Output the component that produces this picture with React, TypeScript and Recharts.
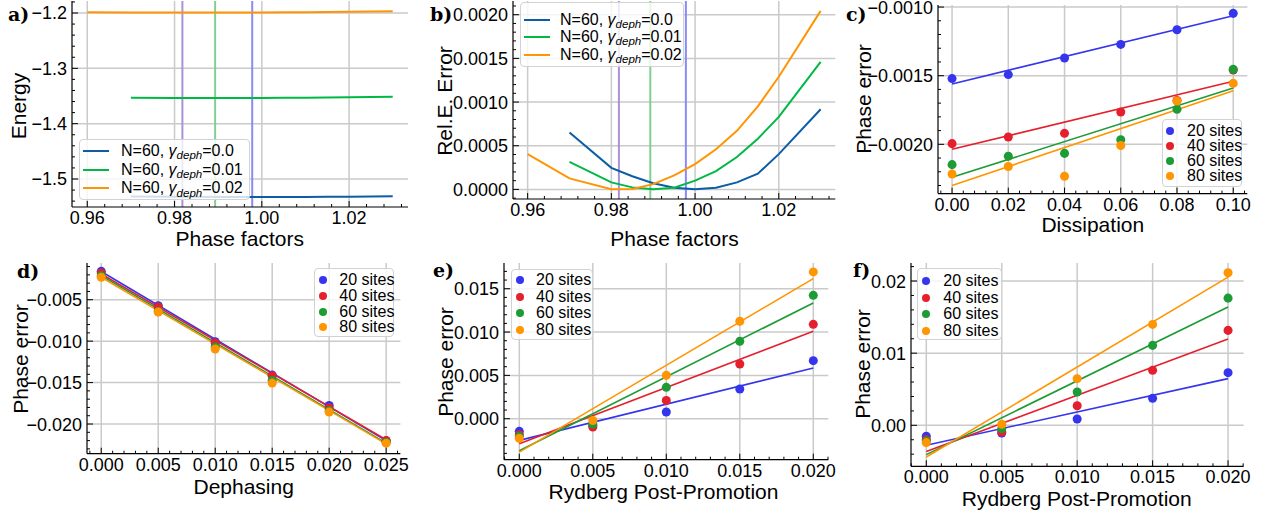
import React from 'react';
import { ComposedChart, Line, Scatter, XAxis, YAxis, CartesianGrid, ReferenceLine } from 'recharts';

const FONT = '"Liberation Sans", Arial, Helvetica, sans-serif';

// ---------------- data: panels a & b ----------------
const systemSize = 60;
const gammaLabels = ['0.0', '0.01', '0.02'];
const gammaColors = ['#0C5DA5', '#00B945', '#FF9500'];

const phaseFull = [0.96, 0.97, 0.98, 0.985, 0.99, 0.995, 1.0, 1.005, 1.01, 1.015, 1.02, 1.03];
const phaseShort = [0.97, 0.98, 0.985, 0.99, 0.995, 1.0, 1.005, 1.01, 1.015, 1.02, 1.03];

const energyG0 = [-1.5315, -1.5321, -1.5323, -1.5324, -1.5325, -1.5325, -1.5325, -1.5324, -1.5322, -1.5319, -1.5311];
const energyG1 = [-1.3531, -1.3534, -1.3535, -1.3535, -1.3535, -1.3534, -1.3532, -1.353, -1.3527, -1.3524, -1.3515];
const energyG2 = [-1.1988, -1.1992, -1.1993, -1.1993, -1.1992, -1.1991, -1.199, -1.1988, -1.1985, -1.1982, -1.1978, -1.1969];

const relErrG0 = [0.000652, 0.000247, 0.00015, 0.00007, 0.00002, 0.000002, 0.00002, 0.00008, 0.00018, 0.000404, 0.000917];
const relErrG1 = [0.000316, 0.00008, 0.000023, 0.000002, 0.00002, 0.0001, 0.00021, 0.00037, 0.00058, 0.00083, 0.00146];
const relErrG2 = [0.000404, 0.000126, 0.000003, 0.000005, 0.00006, 0.00016, 0.00029, 0.00046, 0.00067, 0.00095, 0.00129, 0.002044];

const optimalPhase = [0.9978, 0.9893, 0.9818];
const optimalColors = ['#8a8af7', '#82cf92', '#ab90d8'];

// ---------------- data: panels c-f ----------------
const siteCounts = [20, 40, 60, 80];
const siteColors = ['#3535ee', '#e5202d', '#1d9b35', '#ff9500'];

const dissipation = [0, 0.02, 0.04, 0.06, 0.08, 0.1];
const dissFitX = [0, 0.1];
const dissErr20 = [-0.001521, -0.001492, -0.001371, -0.001272, -0.001165, -0.001046];
const dissErr40 = [-0.001995, -0.001947, -0.00192, -0.001765, -0.00168, -0.001459];
const dissErr60 = [-0.002148, -0.002087, -0.002066, -0.001966, -0.001745, -0.001454];
const dissErr80 = [-0.002216, -0.002162, -0.002233, -0.002009, -0.001685, -0.001556];
const dissFit20 = [-0.00156, -0.001063];
const dissFit40 = [-0.002036, -0.001541];
const dissFit60 = [-0.00224, -0.00159];
const dissFit80 = [-0.0023, -0.00161];

const dephasing = [0, 0.005, 0.01, 0.015, 0.02, 0.025];
const dephFitX = [0, 0.025];
const dephErr20 = [-0.00158, -0.00572, -0.01007, -0.0141, -0.01777, -0.02203];
const dephErr40 = [-0.00178, -0.00588, -0.01023, -0.01418, -0.01804, -0.02199];
const dephErr60 = [-0.0021, -0.00641, -0.01071, -0.01474, -0.0184, -0.02219];
const dephErr80 = [-0.0023, -0.00649, -0.01095, -0.01506, -0.01856, -0.02231];
const dephFit20 = [-0.0016, -0.022];
const dephFit40 = [-0.0019, -0.0219];
const dephFit60 = [-0.0021, -0.0223];
const dephFit80 = [-0.0023, -0.0224];

const rydberg = [0, 0.005, 0.01, 0.015, 0.02];
const rydFitX = [0, 0.02];
const rydAErr20 = [-0.00146, -0.0008, 0.00077, 0.00343, 0.0067];
const rydAErr40 = [-0.00185, -0.00096, 0.00211, 0.00632, 0.01089];
const rydAErr60 = [-0.00204, -0.00061, 0.00362, 0.00893, 0.01424];
const rydAErr80 = [-0.00227, -0.0002, 0.005, 0.01124, 0.01694];
const rydAFit20 = [-0.0025, 0.00585];
const rydAFit40 = [-0.00289, 0.0101];
const rydAFit60 = [-0.0037, 0.01336];
const rydAFit80 = [-0.00385, 0.01617];

const rydBErr20 = [-0.00152, -0.00106, 0.00088, 0.00374, 0.0073];
const rydBErr40 = [-0.00198, -0.00092, 0.00272, 0.00762, 0.01316];
const rydBErr60 = [-0.00217, -0.00046, 0.00462, 0.01108, 0.01763];
const rydBErr80 = [-0.0024, 0.00014, 0.00647, 0.01399, 0.02115];
const rydBFit20 = [-0.00277, 0.00647];
const rydBFit40 = [-0.00364, 0.01196];
const rydBFit60 = [-0.00406, 0.01639];
const rydBFit80 = [-0.00439, 0.02054];

// tick labels (major ticks)
const phaseTicks = [0.96, 0.98, 1.0, 1.02];
const energyTicks = [-1.5, -1.4, -1.3, -1.2];
const relErrTicks = [0, 0.0005, 0.001, 0.0015, 0.002];
const dissTicks = [0, 0.02, 0.04, 0.06, 0.08, 0.1];
const dissErrTicks = [-0.002, -0.0015, -0.001];
const dephTicks = [0, 0.005, 0.01, 0.015, 0.02, 0.025];
const dephErrTicks = [-0.02, -0.015, -0.01, -0.005];
const rydTicks = [0, 0.005, 0.01, 0.015, 0.02];
const rydAErrTicks = [0, 0.005, 0.01, 0.015];
const rydBErrTicks = [0, 0.01, 0.02];

// ---------------- helpers ----------------
const pts = (xs: number[], ys: number[]) => xs.map((x, i) => ({ x, y: ys[i] }));

const ML = 72, MR = 12, MT = 12, MB = 32;
const TICK_FONT = 18;

type Cfg = {
  plot: [number, number, number, number];
  xDomain: [number, number];
  yDomain: [number, number];
  xMajor: number[];
  yMajor: number[];
  xStep: number;
  yStep: number;
  xDigits: number;
  yDigits: number;
};

function stepTicks(domain: [number, number], step: number) {
  const s = Math.ceil(domain[0] / step - 1e-6);
  const e = Math.floor(domain[1] / step + 1e-6);
  const out: number[] = [];
  for (let k = s; k <= e; k++) out.push(Math.round(k * step * 1e9) / 1e9);
  return out;
}

function fmt(v: number, d: number) {
  let s = v.toFixed(d);
  if (/^-[0.]+$/.test(s)) s = s.slice(1);
  return s.replace('-', '\u2212');
}

function makeTick(side: string, majors: number[], step: number, digits: number) {
  return (props: any) => {
    const { x, y, payload } = props;
    const v = Number(payload && payload.value);
    const major = majors.some((m) => Math.abs(m - v) < step * 0.01);
    const len = major ? 6 : 3;
    const ls = { stroke: '#000', strokeWidth: 1 };
    const ts = { fontSize: TICK_FONT, fontFamily: FONT, fill: '#000' };
    if (side === 'bottom')
      return (
        <g>
          <line x1={x} x2={x} y1={y} y2={y - len} {...ls} />
          {major && (
            <text x={x} y={y + 4} dy="0.72em" textAnchor="middle" {...ts}>
              {fmt(v, digits)}
            </text>
          )}
        </g>
      );
    if (side === 'top')
      return (
        <g>
          <line x1={x} x2={x} y1={y} y2={y + len} {...ls} />
        </g>
      );
    if (side === 'left')
      return (
        <g>
          <line x1={x} x2={x + len} y1={y} y2={y} {...ls} />
          {major && (
            <text x={x - 5} y={y} dy="0.36em" textAnchor="end" {...ts}>
              {fmt(v, digits)}
            </text>
          )}
        </g>
      );
    return (
      <g>
        <line x1={x} x2={x - len} y1={y} y2={y} {...ls} />
      </g>
    );
  };
}

function Panel({ cfg, children }: { cfg: Cfg; children?: React.ReactNode }) {
  const [x0, y0, x1, y1] = cfg.plot;
  const W = x1 - x0 + ML + MR;
  const H = y1 - y0 + MT + MB;
  const xt = stepTicks(cfg.xDomain, cfg.xStep);
  const yt = stepTicks(cfg.yDomain, cfg.yStep);
  const axisLine = { stroke: '#000', strokeWidth: 1.2 };
  return (
    <div style={{ position: 'absolute', left: x0 - ML, top: y0 - MT }}>
      <ComposedChart width={W} height={H} margin={{ top: MT, right: MR, bottom: 0, left: 0 }} style={{ overflow: 'visible' }}>
        <CartesianGrid
          xAxisId="b"
          yAxisId="l"
          verticalValues={cfg.xMajor}
          horizontalValues={cfg.yMajor}
          stroke="#cacaca"
          strokeWidth={1.5}
        />
        <XAxis
          xAxisId="b"
          orientation="bottom"
          type="number"
          dataKey="x"
          domain={cfg.xDomain}
          allowDataOverflow
          ticks={xt}
          interval={0}
          height={MB}
          tickLine={false}
          tickSize={0}
          tickMargin={0}
          axisLine={axisLine}
          tick={makeTick('bottom', cfg.xMajor, cfg.xStep, cfg.xDigits)}
        />
        <XAxis
          xAxisId="t"
          orientation="top"
          type="number"
          domain={cfg.xDomain}
          allowDataOverflow
          ticks={xt}
          interval={0}
          height={0}
          tickLine={false}
          tickSize={0}
          tickMargin={0}
          axisLine={axisLine}
          tick={makeTick('top', cfg.xMajor, cfg.xStep, cfg.xDigits)}
        />
        <YAxis
          yAxisId="l"
          orientation="left"
          type="number"
          dataKey="y"
          domain={cfg.yDomain}
          allowDataOverflow
          ticks={yt}
          interval={0}
          width={ML}
          tickLine={false}
          tickSize={0}
          tickMargin={0}
          axisLine={axisLine}
          tick={makeTick('left', cfg.yMajor, cfg.yStep, cfg.yDigits)}
        />
        <YAxis
          yAxisId="r"
          orientation="right"
          type="number"
          domain={cfg.yDomain}
          allowDataOverflow
          ticks={yt}
          interval={0}
          width={0}
          tickLine={false}
          tickSize={0}
          tickMargin={0}
          axisLine={axisLine}
          tick={makeTick('right', cfg.yMajor, cfg.yStep, cfg.yDigits)}
        />
        {children}
      </ComposedChart>
    </div>
  );
}

// ---------------- panel configs ----------------
const cfgA: Cfg = {
  plot: [72, 1, 408, 207],
  xDomain: [0.9565, 1.0335],
  yDomain: [-1.5506, -1.1783],
  xMajor: phaseTicks,
  yMajor: energyTicks,
  xStep: 0.004,
  yStep: 0.02,
  xDigits: 2,
  yDigits: 1,
};
const cfgB: Cfg = {
  plot: [512.7, 1, 835, 199],
  xDomain: [0.9565, 1.0335],
  yDomain: [-0.00011, 0.002157],
  xMajor: phaseTicks,
  yMajor: relErrTicks,
  xStep: 0.004,
  yStep: 0.0001,
  xDigits: 2,
  yDigits: 4,
};
const cfgC: Cfg = {
  plot: [938, 4.7, 1247.3, 193.3],
  xDomain: [-0.005, 0.105],
  yDomain: [-0.002359, -0.000985],
  xMajor: dissTicks,
  yMajor: dissErrTicks,
  xStep: 0.004,
  yStep: 0.0001,
  xDigits: 2,
  yDigits: 4,
};
const cfgD: Cfg = {
  plot: [87.3, 263.3, 400.7, 454],
  xDomain: [-0.00125, 0.02625],
  yDomain: [-0.02358, -0.00057],
  xMajor: dephTicks,
  yMajor: dephErrTicks,
  xStep: 0.001,
  yStep: 0.001,
  xDigits: 3,
  yDigits: 3,
};
const cfgE: Cfg = {
  plot: [504, 263.3, 828.3, 460],
  xDomain: [-0.00104, 0.02102],
  yDomain: [-0.00473, 0.01797],
  xMajor: rydTicks,
  yMajor: rydAErrTicks,
  xStep: 0.001,
  yStep: 0.001,
  xDigits: 3,
  yDigits: 3,
};
const cfgF: Cfg = {
  plot: [910.7, 262.7, 1243.3, 466],
  xDomain: [-0.001014, 0.02103],
  yDomain: [-0.00568, 0.0225],
  xMajor: rydTicks,
  yMajor: rydBErrTicks,
  xStep: 0.001,
  yStep: 0.002,
  xDigits: 3,
  yDigits: 2,
};

// ---------------- series builders ----------------
function gammaLines(sets: { xs: number[]; ys: number[] }[]) {
  return sets.map((s, i) => (
    <Line
      key={'g' + i}
      xAxisId="b"
      yAxisId="l"
      data={pts(s.xs, s.ys)}
      dataKey="y"
      type="linear"
      dot={false}
      stroke={gammaColors[i]}
      strokeWidth={2}
      isAnimationActive={false}
    />
  ));
}

function optimalLines() {
  return optimalPhase.map((v, i) => (
    <ReferenceLine key={'o' + i} xAxisId="b" yAxisId="l" x={v} stroke={optimalColors[i]} strokeWidth={2} />
  ));
}

function siteSeries(xs: number[], ys: number[][], fitX: number[], fits: number[][]) {
  const out: React.ReactNode[] = [];
  fits.forEach((f, i) =>
    out.push(
      <Line
        key={'f' + i}
        xAxisId="b"
        yAxisId="l"
        data={pts(fitX, f)}
        dataKey="y"
        type="linear"
        dot={false}
        stroke={siteColors[i]}
        strokeWidth={1.6}
        isAnimationActive={false}
      />
    )
  );
  ys.forEach((y, i) =>
    out.push(
      <Scatter
        key={'s' + i}
        xAxisId="b"
        yAxisId="l"
        data={pts(xs, y)}
        dataKey="y"
        fill={siteColors[i]}
        isAnimationActive={false}
      />
    )
  );
  return out;
}

// ---------------- legends & titles ----------------
const legendBox: React.CSSProperties = {
  position: 'absolute',
  border: '1px solid #d2d2d2',
  borderRadius: 4,
  background: 'rgba(255,255,255,0.8)',
  boxSizing: 'border-box',
  fontFamily: FONT,
  fontSize: 16,
  color: '#000',
};

function GammaLegend({ left, top, width, height, rows, markX, textX }: any) {
  return (
    <div style={{ ...legendBox, left, top, width, height }}>
      {gammaLabels.map((g, i) => (
        <div key={i} style={{ position: 'absolute', left: 0, top: rows[i] - 10, height: 20, width: '100%' }}>
          <div
            style={{ position: 'absolute', left: markX, top: 9, width: 26, height: 2, background: gammaColors[i] }}
          />
          <div style={{ position: 'absolute', left: textX, top: 0, lineHeight: '20px', whiteSpace: 'nowrap' }}>
            N={systemSize},{' '}
            <span style={{ fontStyle: 'italic' }}>γ</span>
            <span style={{ fontStyle: 'italic', fontSize: '0.72em', position: 'relative', top: '0.3em' }}>deph</span>
            ={g}
          </div>
        </div>
      ))}
    </div>
  );
}

function SiteLegend({ left, top, width, height, rows, dotX, textX }: any) {
  return (
    <div style={{ ...legendBox, left, top, width, height }}>
      {siteCounts.map((n, i) => (
        <div key={i} style={{ position: 'absolute', left: 0, top: rows[i] - 10, height: 20, width: '100%' }}>
          <div
            style={{
              position: 'absolute',
              left: dotX - 4,
              top: 6,
              width: 8,
              height: 8,
              borderRadius: 4,
              background: siteColors[i],
            }}
          />
          <div style={{ position: 'absolute', left: textX, top: 0, lineHeight: '20px', whiteSpace: 'nowrap' }}>
            {n} sites
          </div>
        </div>
      ))}
    </div>
  );
}

function XTitle({ text, x, y }: any) {
  return (
    <div
      style={{
        position: 'absolute',
        left: x,
        top: y,
        transform: 'translate(-50%, -50%)',
        fontFamily: FONT,
        fontSize: 21,
        lineHeight: 1,
        whiteSpace: 'nowrap',
        color: '#000',
      }}
    >
      {text}
    </div>
  );
}

function YTitle({ text, x, y }: any) {
  return (
    <div
      style={{
        position: 'absolute',
        left: x,
        top: y,
        transform: 'translate(-50%, -50%) rotate(-90deg)',
        fontFamily: FONT,
        fontSize: 21,
        lineHeight: 1,
        whiteSpace: 'nowrap',
        color: '#000',
      }}
    >
      {text}
    </div>
  );
}

function Letter({ text, x, y }: any) {
  return (
    <div
      style={{
        position: 'absolute',
        left: x,
        top: y,
        fontFamily: '"DejaVu Serif", "Liberation Serif", serif',
        fontWeight: 'bold',
        fontSize: 19,
        lineHeight: '20px',
        whiteSpace: 'nowrap',
        color: '#000',
      }}
    >
      {text}
    </div>
  );
}

export default function App() {
  return (
    <div
      style={{
        position: 'absolute',
        left: 0,
        top: 0,
        width: 1266,
        height: 515,
        background: '#fff',
        overflow: 'hidden',
      }}
    >
      <Panel cfg={cfgA}>
        {optimalLines()}
        {gammaLines([
          { xs: phaseShort, ys: energyG0 },
          { xs: phaseShort, ys: energyG1 },
          { xs: phaseFull, ys: energyG2 },
        ])}
      </Panel>
      <Panel cfg={cfgB}>
        {optimalLines()}
        {gammaLines([
          { xs: phaseShort, ys: relErrG0 },
          { xs: phaseShort, ys: relErrG1 },
          { xs: phaseFull, ys: relErrG2 },
        ])}
      </Panel>
      <Panel cfg={cfgC}>
        {siteSeries(dissipation, [dissErr20, dissErr40, dissErr60, dissErr80], dissFitX, [
          dissFit20,
          dissFit40,
          dissFit60,
          dissFit80,
        ])}
      </Panel>
      <Panel cfg={cfgD}>
        {siteSeries(dephasing, [dephErr20, dephErr40, dephErr60, dephErr80], dephFitX, [
          dephFit20,
          dephFit40,
          dephFit60,
          dephFit80,
        ])}
      </Panel>
      <Panel cfg={cfgE}>
        {siteSeries(rydberg, [rydAErr20, rydAErr40, rydAErr60, rydAErr80], rydFitX, [
          rydAFit20,
          rydAFit40,
          rydAFit60,
          rydAFit80,
        ])}
      </Panel>
      <Panel cfg={cfgF}>
        {siteSeries(rydberg, [rydBErr20, rydBErr40, rydBErr60, rydBErr80], rydFitX, [
          rydBFit20,
          rydBFit40,
          rydBFit60,
          rydBFit80,
        ])}
      </Panel>

      <GammaLegend left={79} top={139} width={171} height={61} rows={[10.5, 29.5, 48.3]} markX={3} textX={41} />
      <GammaLegend left={520} top={2} width={164} height={65} rows={[16.5, 34, 51.5]} markX={3} textX={39} />
      <SiteLegend left={1162} top={119} width={80} height={68} rows={[11, 26, 41, 56]} dotX={6.5} textX={24} />
      <SiteLegend left={314} top={268} width={80} height={69} rows={[11.3, 27, 42.5, 58]} dotX={7.7} textX={24.3} />
      <SiteLegend left={510.7} top={269.3} width={82.6} height={71} rows={[10, 26.5, 43, 59.5]} dotX={8.3} textX={24.3} />
      <SiteLegend left={917.3} top={268.3} width={84.4} height={72} rows={[12, 28.5, 45, 61.5]} dotX={7.7} textX={25} />

      <XTitle text="Phase factors" x={239.7} y={238} />
      <XTitle text="Phase factors" x={674.5} y={238} />
      <XTitle text="Dissipation" x={1092.8} y={223.5} />
      <XTitle text="Dephasing" x={243.7} y={485.5} />
      <XTitle text="Rydberg Post-Promotion" x={663.5} y={491} />
      <XTitle text="Rydberg Post-Promotion" x={1076.7} y={497.5} />

      <YTitle text="Energy" x={18} y={106} />
      <YTitle text="Rel.E. Error" x={444} y={100.5} />
      <YTitle text="Phase error" x={862.5} y={99} />
      <YTitle text="Phase error" x={20} y={358.7} />
      <YTitle text="Phase error" x={444.7} y={361.7} />
      <YTitle text="Phase error" x={862} y={364} />

      <Letter text="a)" x={8} y={3.5} />
      <Letter text="b)" x={430} y={3.5} />
      <Letter text="c)" x={846} y={4} />
      <Letter text="d)" x={17} y={260.5} />
      <Letter text="e)" x={433} y={260} />
      <Letter text="f)" x={853} y={260} />
    </div>
  );
}
